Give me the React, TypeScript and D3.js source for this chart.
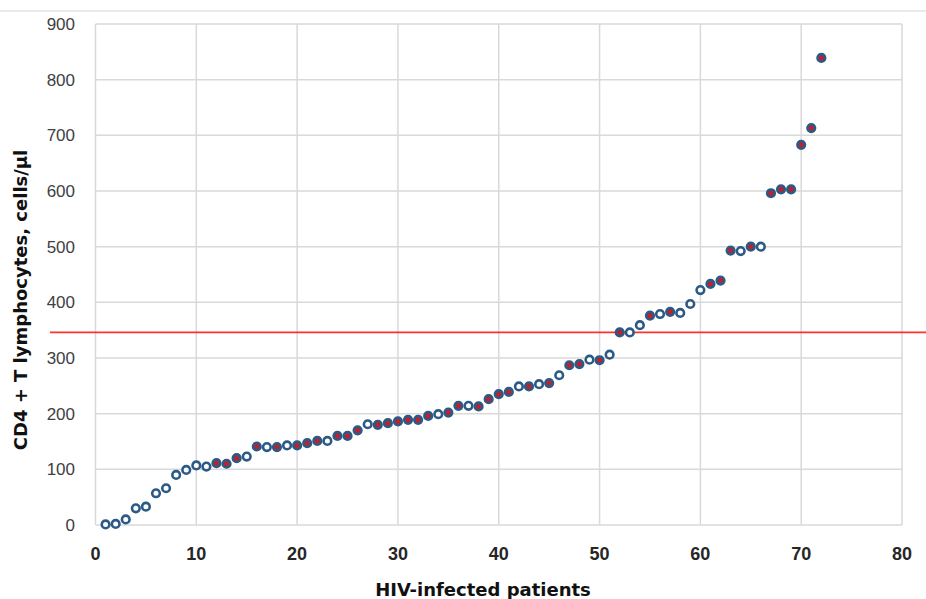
// App.tsx

import React, { useRef, useEffect } from "react";
import * as d3 from "d3";

// CD4+ count for each patient (patients 1..72, sorted)
const cd4Values = [
  1, 2, 10, 30, 33, 57, 66, 90, 99, 107, 105, 111, 110, 120, 123, 141, 140, 140,
  143, 143, 147, 151, 151, 160, 160, 170, 181, 180, 183, 186, 189, 189, 196, 199,
  202, 214, 214, 213, 226, 235, 239, 249, 249, 253, 255, 269, 287, 289, 297, 296,
  306, 346, 346, 359, 376, 379, 383, 381, 397, 422, 433, 439, 493, 492, 500, 500,
  596, 603, 603, 683, 713, 839,
];

// patients whose marker is filled red
const redPatients = [
  12, 13, 14, 16, 18, 20, 21, 22, 24, 25, 26, 28, 29, 30, 31, 32, 33, 35, 36, 38,
  39, 40, 41, 43, 45, 47, 48, 50, 52, 55, 57, 61, 62, 63, 65, 67, 68, 69, 70, 71,
  72,
];

const xTicks = [0, 10, 20, 30, 40, 50, 60, 70, 80];
const yTicks = [0, 100, 200, 300, 400, 500, 600, 700, 800, 900];
const threshold = 346;

const App: React.FC = () => {
  const ref = useRef<SVGSVGElement | null>(null);

  useEffect(() => {
    const svg = d3.select(ref.current);
    svg.selectAll("*").remove();

    const W = 926;
    const H = 599;
    const left = 95.5;
    const right = 902;
    const top = 24;
    const bottom = 525;

    const x = d3.scaleLinear().domain([0, 80]).range([left, right]);
    const y = d3.scaleLinear().domain([0, 900]).range([bottom, top]);

    svg.append("rect").attr("width", W).attr("height", H).attr("fill", "#fff");

    // thin frame line at the top of the picture
    svg
      .append("line")
      .attr("x1", 0)
      .attr("x2", W)
      .attr("y1", 11)
      .attr("y2", 11)
      .attr("stroke", "#e3e3e3")
      .attr("stroke-width", 1.5);

    const grid = svg.append("g");
    grid
      .selectAll(".hg")
      .data(yTicks)
      .enter()
      .append("line")
      .attr("x1", left)
      .attr("x2", right)
      .attr("y1", d => y(d))
      .attr("y2", d => y(d))
      .attr("stroke", "#d9d9d9")
      .attr("stroke-width", 1.5);
    grid
      .selectAll(".vg")
      .data(xTicks)
      .enter()
      .append("line")
      .attr("x1", d => x(d))
      .attr("x2", d => x(d))
      .attr("y1", top)
      .attr("y2", bottom)
      .attr("stroke", "#d9d9d9")
      .attr("stroke-width", 1.5);

    // y tick labels
    svg
      .append("g")
      .selectAll("text")
      .data(yTicks)
      .enter()
      .append("text")
      .attr("x", 75)
      .attr("y", d => y(d) + 6)
      .attr("text-anchor", "end")
      .attr("font-family", "Liberation Sans, Arial, sans-serif")
      .attr("font-size", 17)
      .attr("fill", "#404040")
      .text(d => d);

    // x tick labels
    svg
      .append("g")
      .selectAll("text")
      .data(xTicks)
      .enter()
      .append("text")
      .attr("x", d => x(d))
      .attr("y", 559.5)
      .attr("text-anchor", "middle")
      .attr("font-family", "Liberation Sans, Arial, sans-serif")
      .attr("font-weight", "bold")
      .attr("font-size", 18)
      .attr("fill", "#262626")
      .text(d => d);

    svg
      .append("text")
      .attr("x", 483)
      .attr("y", 596)
      .attr("text-anchor", "middle")
      .attr("font-family", "DejaVu Sans, sans-serif")
      .attr("font-weight", "bold")
      .attr("font-size", 18)
      .attr("fill", "#111")
      .text("HIV-infected patients");

    svg
      .append("text")
      .attr("transform", "translate(27, 300) rotate(-90)")
      .attr("text-anchor", "middle")
      .attr("font-family", "DejaVu Sans, sans-serif")
      .attr("font-weight", "bold")
      .attr("font-size", 18)
      .attr("fill", "#111")
      .text("CD4 + T lymphocytes, cells/µl");

    // threshold line
    svg
      .append("line")
      .attr("x1", 50)
      .attr("x2", W)
      .attr("y1", y(threshold))
      .attr("y2", y(threshold))
      .attr("stroke", "#ff1a1a")
      .attr("stroke-opacity", 0.9)
      .attr("stroke-width", 1.6);

    const data = cd4Values.map((v, i) => ({ patient: i + 1, value: v }));
    const reds = new Set(redPatients);

    svg
      .append("g")
      .selectAll("circle")
      .data(data)
      .enter()
      .append("circle")
      .attr("cx", d => x(d.patient))
      .attr("cy", d => y(d.value))
      .attr("r", 3.8)
      .attr("fill", d => (reds.has(d.patient) ? "#c0202a" : "#fff"))
      .attr("stroke", "#2c5a86")
      .attr("stroke-width", 2.6);
  }, []);

  return (
    <svg
      ref={ref}
      width="926"
      height="599"
      style={{ position: "absolute", left: 0, top: 0, display: "block" }}
    />
  );
};

export default App;
